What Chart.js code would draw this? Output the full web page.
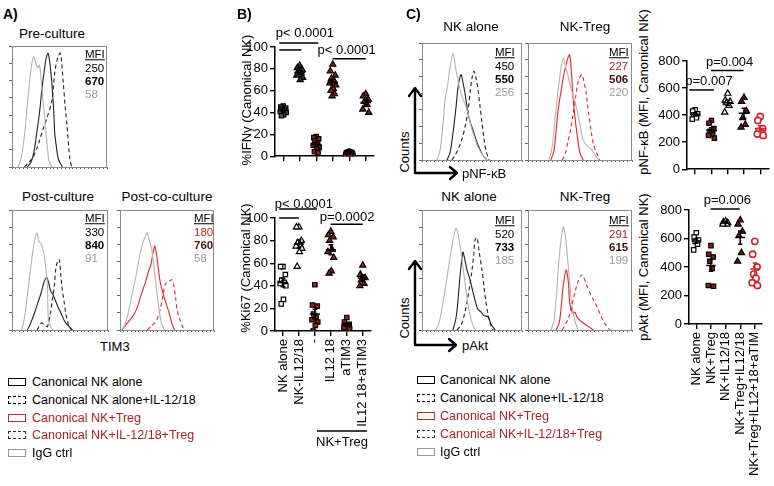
<!DOCTYPE html>
<html>
<head>
<meta charset="utf-8">
<script src="https://cdn.jsdelivr.net/npm/chart.js@4.4.0/dist/chart.umd.min.js"></script>
<style>
  body { margin: 0; background: #fff; width: 774px; height: 486px; position: relative; overflow: hidden;
         font-family: 'Liberation Sans', Arial, sans-serif; }
  canvas { position: absolute; }
  .t { position: absolute; white-space: nowrap; color: #000; line-height: 1; }
  .box { position: absolute; width: 16px; height: 6px; }
  svg { position: absolute; left: 0; top: 0; }
</style>
</head>
<body>
<svg width="774" height="486">
  <g stroke="#000" stroke-width="2.4" fill="none" stroke-linecap="round" stroke-linejoin="round">
    <path d="M415 173 V89 M409 96 L415 88 L421 96 M415 173 H457 M450 167 L457 173 L450 179"/>
    <path d="M415 345 V262 M409 269 L415 261 L421 269 M415 345 H456 M449 339 L456 345 L449 351"/>
  </g>
  <line x1="317" y1="431" x2="367" y2="431" stroke="#000" stroke-width="1.5"/>
</svg>
<script>
// ---- histograms: x = % of frame width, y = % of frame height ----
const preIgg = [[6,0],[9,5],[13,25],[16,50],[19,74],[21,86],[23,91],[25,86],[27,82],[29,84],[31,69],[33,52],[35,36],[37,18],[39,5],[42,0]];
const preNk = [[16,0],[20,4],[23,12],[26,28],[29,45],[31,61],[34,80],[36,90],[38,94],[40,85],[42,69],[44,45],[45,28],[47,15],[49,6],[53,0]];
const preNkIL = [[13,0],[17,3],[22,8],[26,15],[29,22],[33,32],[37,41],[42,55],[45,78],[48,90],[51,94],[54,69],[56,50],[58,33],[61,6],[63,0]];

const postIgg = [[10,0],[13,10],[17,36],[20,55],[22,67],[24,76],[26,81],[28,74],[30,72],[32,68],[34,60],[36,45],[37,36],[38,8],[41,2],[43,0]];
const postNk = [[16,0],[19,5],[22,11],[25,18],[27,23],[30,30],[33,39],[36,44],[38,40],[40,33],[43,29],[45,25],[48,19],[51,14],[55,7],[58,4],[63,0]];
const postNkIL = [[26,0],[29,4],[31,6],[34,4],[37,3],[40,14],[42,25],[44,36],[46,53],[49,59],[51,45],[52,36],[54,25],[56,14],[59,4],[62,0]];

const coIgg = [[2,0],[5,4],[9,15],[13,30],[17,45],[21,62],[24,72],[27,78],[29,81],[31,75],[33,70],[35,60],[38,40],[41,20],[44,6],[47,0]];
const coTreg = [[2,0],[6,4],[10,8],[14,12],[18,18],[22,28],[25,35],[28,42],[30,48],[33,55],[35,64],[37,70],[39,62],[41,50],[43,39],[46,30],[49,22],[52,15],[55,6],[58,0]];
const coTregIL = [[29,0],[33,3],[37,6],[40,10],[43,18],[46,30],[48,38],[50,40],[53,41],[55,42],[57,38],[59,28],[61,16],[64,8],[68,0]];

const nfAloneIgg = [[15,0],[18,8],[21,30],[23,51],[26,66],[28,79],[31,91],[34,77],[38,60],[42,50],[45,43],[48,33],[50,26],[53,18],[56,11],[60,5],[65,0]];
const nfAloneNk = [[25,0],[28,6],[31,23],[34,45],[36,62],[39,73],[41,66],[43,57],[46,40],[48,33],[50,28],[53,20],[55,15],[58,9],[61,4],[65,0]];
const nfAloneNkIL = [[30,0],[33,4],[36,9],[40,18],[43,28],[46,42],[48,57],[50,70],[52,76],[54,70],[56,60],[58,46],[60,32],[62,18],[64,8],[67,0]];

const nfTregIgg = [[20,0],[23,10],[26,35],[29,60],[32,80],[34,87],[36,80],[38,74],[40,66],[43,56],[47,43],[50,30],[53,17],[57,12],[60,10],[64,5],[68,0]];
const nfTregNk = [[22,0],[25,8],[29,43],[32,60],[34,71],[37,83],[40,90],[42,72],[43,57],[45,38],[47,23],[50,6],[53,0]];
const nfTregNkIL = [[33,0],[36,6],[38,14],[41,26],[43,37],[46,55],[48,66],[50,71],[52,73],[54,66],[56,57],[58,42],[61,23],[63,13],[66,6],[69,0]];

const aktAloneIgg = [[14,0],[17,6],[20,18],[24,38],[27,55],[30,70],[32,79],[34,85],[36,80],[38,70],[41,52],[44,33],[47,17],[50,6],[53,0]];
const aktAloneNk = [[31,0],[34,10],[36,25],[38,45],[40,60],[41,65],[43,58],[45,50],[48,42],[50,35],[53,25],[56,17],[59,15],[62,12],[66,11],[69,5],[73,0]];
const aktAloneNkIL = [[35,0],[38,3],[40,6],[43,15],[45,23],[48,38],[50,50],[52,65],[53,75],[55,77],[57,66],[60,50],[62,36],[64,23],[66,13],[68,6],[71,0]];

const aktTregIgg = [[22,0],[25,8],[27,25],[29,50],[31,70],[33,82],[34,86],[36,78],[38,60],[40,40],[42,22],[45,8],[48,0]];
const aktTregNk = [[27,0],[30,6],[32,20],[34,38],[36,48],[37,50],[39,38],[40,23],[42,16],[43,14],[45,15],[47,11],[50,8],[53,6],[58,3],[63,0]];
const aktTregNkIL = [[33,0],[36,5],[39,10],[42,20],[45,31],[48,40],[50,44],[52,46],[54,43],[57,36],[60,30],[63,25],[66,20],[69,14],[72,8],[75,4],[79,0]];

// ---- dot plots ----
const bLabels = ['NK alone', 'NK-IL12/18', '-', 'IL12 18', 'aTIM3', 'IL12 18+aTIM3'];
const ifnNkAlone = [46, 45, 44, 43, 42, 41, 40, 38, 37];
const ifnNkIL = [83, 81, 79, 78, 76, 74, 72, 70];
const ifnTreg = [18, 17, 16, 14, 12, 10, 8, 6, 4, 3];
const ifnTregIL = [84, 78, 74, 71, 69, 67, 65, 62, 60, 57, 55];
const ifnTregTim = [4, 3, 3, 2, 2, 1, 1, 0];
const ifnTregILTim = [57, 55, 52, 50, 47, 43, 40];

const kiNkAlone = [57, 57, 50, 45, 43, 42, 40, 28, 24];
const kiNkIL = [92, 92, 80, 78, 76, 75, 73, 70, 57];
const kiTreg = [41, 23, 22, 15, 12, 10, 8, 5, 0];
const kiTregIL = [88, 85, 83, 80, 72, 70, 65, 53, 51];
const kiTregTim = [12, 8, 6, 5, 4, 3, 2];
const kiTregILTim = [58, 50, 47, 45, 42, 40];

const cLabels = ['NK alone', 'NK+Treg', 'NK+IL12/18', 'NK+Treg+IL12/18', 'NK+Treg+IL12+18+aTIM'];
const nfNkAlone = [440, 430, 410, 400, 380, 370];
const nfTreg = [360, 340, 300, 280, 260, 250, 230];
const nfNkIL = [560, 510, 500, 490, 470, 420];
const nfTregIL = [530, 500, 430, 380, 330, 310];
const nfTregILTim = [390, 360, 300, 280, 270, 260, 250];

const aktNkAlone = [640, 610, 590, 580, 560, 520];
const aktTreg = [550, 490, 470, 440, 390, 270, 265];
const aktNkIL = [720, 715, 710, 705, 700, 700];
const aktTregIL = [730, 700, 650, 620, 500, 440];
const aktTregILTim = [580, 490, 400, 350, 320, 290, 270];

const jitter = [0, -0.15, 0.15, -0.08, 0.08, -0.18, 0.18, 0.03, -0.11, 0.11, -0.04];

const FONT = "'Liberation Sans', Arial, sans-serif";
Chart.defaults.font.family = FONT;
Chart.defaults.color = '#000';

const GREY = '#b3b3b3', BLK = '#222', RED = '#e2252b', DKRED = '#8c1b1b';

function label(s, x, y, o) {
  o = o || {};
  const d = document.createElement('div');
  d.className = 't';
  d.innerHTML = s;
  d.style.left = x + 'px';
  d.style.top = y + 'px';
  d.style.fontSize = (o.size || 13) + 'px';
  if (o.bold) d.style.fontWeight = 'bold';
  if (o.color) d.style.color = o.color;
  if (o.rot) d.style.transform = 'translate(-50%,-50%) rotate(-90deg)';
  else if (o.center) d.style.transform = 'translate(-50%,-50%)';
  else d.style.transform = 'translate(0,-50%)';
  document.body.appendChild(d);
}

const framePlugin = {
  id: 'frame',
  afterDraw(chart) {
    const a = chart.chartArea, ctx = chart.ctx;
    ctx.save();
    ctx.strokeStyle = '#8a8a8a';
    ctx.lineWidth = 1;
    ctx.strokeRect(a.left + 0.5, a.top + 0.5, a.right - a.left - 1, a.bottom - a.top);
    ctx.restore();
  }
};

function curve(pts, color, dash) {
  return {
    data: pts.map(p => ({ x: p[0], y: p[1] })),
    borderColor: color, borderWidth: 1.1, borderDash: dash ? [4, 3] : [],
    pointRadius: 0, tension: 0.3, fill: false
  };
}

function histogram(frame, datasets) {
  const cv = document.createElement('canvas');
  cv.width = frame[2] + 6;
  cv.height = frame[3] + 6;
  cv.style.left = (frame[0] - 5) + 'px';
  cv.style.top = (frame[1] - 1) + 'px';
  document.body.appendChild(cv);
  new Chart(cv, {
    type: 'line',
    data: { datasets: datasets },
    options: {
      responsive: false, animation: false, events: [],
      layout: { padding: { top: 1, right: 1, left: 0, bottom: 0 } },
      plugins: { legend: { display: false }, tooltip: { enabled: false } },
      scales: {
        x: { type: 'linear', min: 0, max: 100, afterFit: s => { s.height = 5; },
             ticks: { display: false, stepSize: 4 },
             grid: { drawOnChartArea: false, tickLength: 2, color: '#666' }, border: { color: '#8a8a8a' } },
        y: { min: 0, max: 100, afterFit: s => { s.width = 5; },
             ticks: { display: false, count: 8 },
             grid: { drawOnChartArea: false, tickLength: 3, color: '#666' }, border: { color: '#8a8a8a' } }
      }
    },
    plugins: [framePlugin]
  });
}

function dotPlot(o) {
  const cv = document.createElement('canvas');
  cv.width = o.w; cv.height = o.h;
  cv.style.left = o.left + 'px'; cv.style.top = o.top + 'px';
  document.body.appendChild(cv);
  const datasets = o.groups.map((g, i) => ({
    data: g.vals.map((v, j) => ({ x: i + 1 + jitter[j % jitter.length], y: v })),
    pointStyle: g.shape, pointRadius: g.shape === 'triangle' ? 3.6 : 3.1,
    backgroundColor: g.fill, borderColor: g.stroke, borderWidth: g.bw || 1.2,
    meanColor: g.mean || '#000'
  }));
  const meanSem = {
    id: 'meanSem',
    afterDatasetsDraw(chart) {
      const ctx = chart.ctx, xs = chart.scales.x, ys = chart.scales.y;
      chart.data.datasets.forEach((ds, i) => {
        const v = ds.data.map(p => p.y), n = v.length;
        const m = v.reduce((a, b) => a + b, 0) / n;
        const sd = Math.sqrt(v.reduce((a, b) => a + (b - m) * (b - m), 0) / (n - 1));
        const se = sd / Math.sqrt(n);
        const X = k => xs.getPixelForValue(i + 1 + k), Y = k => ys.getPixelForValue(k);
        ctx.save();
        ctx.strokeStyle = ds.meanColor; ctx.lineWidth = 1.5;
        ctx.beginPath();
        ctx.moveTo(X(-0.32), Y(m)); ctx.lineTo(X(0.32), Y(m));
        ctx.moveTo(X(0), Y(m - se)); ctx.lineTo(X(0), Y(m + se));
        ctx.moveTo(X(-0.15), Y(m - se)); ctx.lineTo(X(0.15), Y(m - se));
        ctx.moveTo(X(-0.15), Y(m + se)); ctx.lineTo(X(0.15), Y(m + se));
        ctx.stroke();
        ctx.restore();
      });
    }
  };
  const brackets = {
    id: 'brackets',
    afterDraw(chart) {
      const ctx = chart.ctx, xs = chart.scales.x, ys = chart.scales.y;
      ctx.save();
      ctx.strokeStyle = '#000'; ctx.lineWidth = 1.5;
      o.lines.forEach(l => {
        ctx.beginPath();
        ctx.moveTo(xs.getPixelForValue(l[0]), ys.getPixelForValue(l[2]));
        ctx.lineTo(xs.getPixelForValue(l[1]), ys.getPixelForValue(l[2]));
        ctx.stroke();
      });
      ctx.fillStyle = '#000'; ctx.font = '13px ' + FONT;
      ctx.textAlign = 'center'; ctx.textBaseline = 'middle';
      o.texts.forEach(t => ctx.fillText(t[0], xs.getPixelForValue(t[1]), ys.getPixelForValue(t[2])));
      ctx.restore();
    }
  };
  new Chart(cv, {
    type: 'scatter',
    data: { datasets: datasets },
    options: {
      responsive: false, animation: false, events: [],
      layout: { padding: { top: o.padTop, right: o.padRight, left: 0, bottom: 0 } },
      plugins: { legend: { display: false }, tooltip: { enabled: false } },
      scales: {
        x: { type: 'linear', min: 0.5, max: o.groups.length + 0.5,
             afterBuildTicks: s => { s.ticks = o.groups.map((g, i) => ({ value: i + 1 })); },
             afterFit: s => { s.height = o.xh; },
             grid: { drawOnChartArea: false, tickLength: 5, color: '#000', lineWidth: 1.4 },
             border: { color: '#000', width: 1.5 },
             ticks: { display: !!o.labels, autoSkip: false, maxRotation: 90, minRotation: 90, padding: 3,
                      font: { size: 13 }, color: '#000',
                      callback: (v, i) => o.labels ? o.labels[i] : '' } },
        y: { min: 0, max: o.ymax, afterFit: s => { s.width = 35; },
             ticks: { stepSize: o.ystep, font: { size: 13 }, color: '#000', padding: 2 },
             grid: { drawOnChartArea: false, tickLength: 5, color: '#000', lineWidth: 1.4 },
             border: { color: '#000', width: 1.5 } }
      }
    },
    plugins: [meanSem, brackets]
  });
}

// ---- panel A ----
histogram([12, 46, 95, 121], [curve(preIgg, GREY), curve(preNk, BLK), curve(preNkIL, BLK, true)]);
histogram([12, 210, 96, 120], [curve(postIgg, GREY), curve(postNk, BLK), curve(postNkIL, BLK, true)]);
histogram([120, 210, 94, 120], [curve(coIgg, GREY), curve(coTreg, RED), curve(coTregIL, RED, true)]);

// ---- panel C histograms ----
histogram([422, 43, 100, 117], [curve(nfAloneIgg, GREY), curve(nfAloneNk, BLK), curve(nfAloneNkIL, BLK, true)]);
histogram([528, 43, 104, 117], [curve(nfTregIgg, GREY), curve(nfTregNk, RED), curve(nfTregNkIL, RED, true)]);
histogram([422, 210, 100, 120], [curve(aktAloneIgg, GREY), curve(aktAloneNk, BLK), curve(aktAloneNkIL, BLK, true)]);
histogram([528, 210, 104, 120], [curve(aktTregIgg, GREY), curve(aktTregNk, RED), curve(aktTregNkIL, RED, true)]);

// ---- panel B ----
dotPlot({
  left: 240, top: 20, w: 142, h: 146, padTop: 27, padRight: 8, xh: 6, ymax: 100, ystep: 20,
  groups: [
    { vals: ifnNkAlone, shape: 'rect', fill: '#555', stroke: '#000' },
    { vals: ifnNkIL, shape: 'triangle', fill: '#333', stroke: '#000' },
    { vals: ifnTreg, shape: 'rect', fill: '#a01c1c', stroke: '#000' },
    { vals: ifnTregIL, shape: 'triangle', fill: DKRED, stroke: '#000' },
    { vals: ifnTregTim, shape: 'circle', fill: '#a01c1c', stroke: '#000' },
    { vals: ifnTregILTim, shape: 'triangle', fill: DKRED, stroke: '#000' }
  ],
  lines: [[0.76, 3.13, 103.6], [0.76, 2.1, 97.3], [3.99, 6.0, 89.3]],
  texts: [['p< 0.0001', 2.31, 112.5], ['p< 0.0001', 4.84, 97.3]]
});
dotPlot({
  left: 240, top: 195, w: 142, h: 248, padTop: 23, padRight: 8, xh: 112, ymax: 100, ystep: 20,
  labels: bLabels,
  groups: [
    { vals: kiNkAlone, shape: 'rect', fill: '#fff', stroke: '#000' },
    { vals: kiNkIL, shape: 'triangle', fill: '#fff', stroke: '#000' },
    { vals: kiTreg, shape: 'rect', fill: '#a01c1c', stroke: '#000' },
    { vals: kiTregIL, shape: 'triangle', fill: DKRED, stroke: '#000' },
    { vals: kiTregTim, shape: 'rect', fill: '#a01c1c', stroke: '#000' },
    { vals: kiTregILTim, shape: 'triangle', fill: DKRED, stroke: '#000' }
  ],
  lines: [[0.76, 3.13, 108], [0.76, 2.0, 100], [3.99, 6.0, 94.5]],
  texts: [['p< 0.0001', 2.31, 112.4], ['p=0.0002', 5.02, 100.9]]
});

// ---- panel C dot plots ----
dotPlot({
  left: 652, top: 50, w: 122, h: 129, padTop: 11, padRight: 4, xh: 6, ymax: 800, ystep: 200,
  groups: [
    { vals: nfNkAlone, shape: 'rect', fill: '#fff', stroke: '#000' },
    { vals: nfTreg, shape: 'rect', fill: DKRED, stroke: '#000' },
    { vals: nfNkIL, shape: 'triangle', fill: '#fff', stroke: '#000' },
    { vals: nfTregIL, shape: 'triangle', fill: '#6e1212', stroke: '#000' },
    { vals: nfTregILTim, shape: 'circle', fill: '#fff', stroke: '#d0262b', bw: 1.6, mean: '#d0262b' }
  ],
  lines: [[1.97, 3.97, 729], [0.64, 2.15, 586]],
  texts: [['p=0.004', 3.12, 793], ['p=0.007', 1.85, 650]]
});
dotPlot({
  left: 654, top: 190, w: 120, h: 296, padTop: 20, padRight: 4, xh: 162, ymax: 800, ystep: 200,
  labels: cLabels,
  groups: [
    { vals: aktNkAlone, shape: 'rect', fill: '#fff', stroke: '#000' },
    { vals: aktTreg, shape: 'rect', fill: DKRED, stroke: '#000' },
    { vals: aktNkIL, shape: 'triangle', fill: '#fff', stroke: '#000' },
    { vals: aktTregIL, shape: 'triangle', fill: '#6e1212', stroke: '#000' },
    { vals: aktTregILTim, shape: 'circle', fill: '#fff', stroke: '#d0262b', bw: 1.6, mean: '#d0262b' }
  ],
  lines: [[1.97, 3.97, 807]],
  texts: [['p=0.006', 3.12, 870]]
});

// ---- text ----
label('A)', 3, 14, { bold: true, size: 14 });
label('B)', 237, 14, { bold: true, size: 14 });
label('C)', 406, 14, { bold: true, size: 14 });

label('Pre-culture', 52, 34, { center: true, size: 13.5 });
label('Post-culture', 58, 197, { center: true, size: 13.5 });
label('Post-co-culture', 167, 197, { center: true, size: 13.5 });
label('NK alone', 471, 27, { center: true, size: 13.5 });
label('NK-Treg', 585, 27, { center: true, size: 13.5 });
label('NK alone', 469, 197, { center: true, size: 13.5 });
label('NK-Treg', 585, 197, { center: true, size: 13.5 });
label('TIM3', 100, 346, { size: 13 });

function mfi(x, y, nums, c1, c2) {
  label('<u>MFI</u>', x, y, { size: 11.5 });
  label(nums[0], x, y + 13.5, { size: 11.5, color: c1 });
  label(nums[1], x, y + 27, { size: 11.5, color: c2, bold: true });
  label(nums[2], x, y + 40, { size: 11.5, color: '#999' });
}
mfi(85, 55, ['250', '670', '58'], '#000', '#000');
mfi(85, 219, ['330', '840', '91'], '#000', '#000');
mfi(194, 219, ['180', '760', '58'], '#c0282d', '#4a1512');
mfi(495, 53, ['450', '550', '256'], '#000', '#000');
mfi(609, 53, ['227', '506', '220'], '#b0242a', '#3d0d0d');
mfi(495, 221, ['520', '733', '185'], '#000', '#000');
mfi(609, 221, ['291', '615', '199'], '#b0242a', '#3d0d0d');

label('%IFNγ (Canonical NK)', 246, 100, { rot: true, size: 13 });
label('%Ki67 (Canonical NK)', 245, 268, { rot: true, size: 13 });
label('pNF-κB (MFI, Canonical NK)', 643, 92, { rot: true, size: 13 });
label('pAkt (MFI, Canonical NK)', 643, 267, { rot: true, size: 13 });
label('Counts', 404, 152, { rot: true, size: 13 });
label('Counts', 404, 318, { rot: true, size: 13 });
label('pNF-κB', 462, 173, { size: 13 });
label('pAkt', 462, 345, { size: 13 });
label('NK+Treg', 342, 441, { center: true, size: 13 });

// legends
const legendItems = [
  ['Canonical NK alone', '#000', '1.2px solid #000'],
  ['Canonical NK alone+IL-12/18', '#000', '1.2px dashed #000'],
  ['Canonical NK+Treg', '#a3262a', '1.2px solid #b03030'],
  ['Canonical NK+IL-12/18+Treg', '#a3262a', '1.2px dashed #333'],
  ['IgG ctrl', '#000', '1.2px solid #999']
];
function legend(x, tx, y0, dy) {
  legendItems.forEach((it, i) => {
    const b = document.createElement('div');
    b.className = 'box';
    b.style.left = x + 'px';
    b.style.top = (y0 + i * dy - 4) + 'px';
    b.style.border = it[2];
    document.body.appendChild(b);
    label(it[0], tx, y0 + i * dy, { size: 12.5, color: it[1] });
  });
}
legend(8, 32, 382, 17.8);
legend(417, 440, 380, 18);
</script>
</body>
</html>
